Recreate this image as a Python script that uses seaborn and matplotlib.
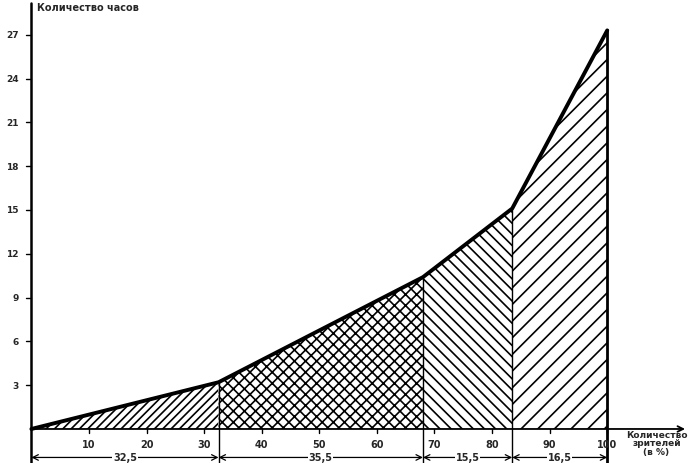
import matplotlib
matplotlib.use('Agg')
import pandas as pd
import seaborn as sns
import matplotlib.pyplot as plt

# Share of viewers (%) per group and the cumulative hours curve
shares = [32.5, 35.5, 15.5, 16.5]
share_labels = ['32,5', '35,5', '15,5', '16,5']
viewers = [0, 32.5, 68, 83.5, 100]
hours = [0, 3.2, 10.4, 15.1, 27.3]
x_ticks = [10, 20, 30, 40, 50, 60, 70, 80, 90, 100]
y_ticks = [3, 6, 9, 12, 15, 18, 21, 24, 27]
hatches = ['////', 'xxx', '\\\\\\', '//']

sns.set_style('white')
plt.rcParams['font.family'] = ['DejaVu Sans']
plt.rcParams['hatch.linewidth'] = 1.2

df = pd.DataFrame({'viewers': viewers, 'hours': hours})

fig = plt.figure(figsize=(6.89, 4.64), dpi=100)
ax = fig.add_axes([0, 0, 1, 1])
ax.set_xlim(-5.45, 114.2)
ax.set_ylim(-2.33, 29.45)
for s in ax.spines.values():
    s.set_visible(False)

# Hatched areas under each segment
for i in range(len(shares)):
    xs = viewers[i:i + 2]
    ys = hours[i:i + 2]
    ax.fill_between(xs, 0, ys, facecolor='white', edgecolor='black',
                    hatch=hatches[i], linewidth=0)
    # boundary line on the right side of each segment
    ax.plot([xs[1], xs[1]], [-2.33, ys[1]], color='black',
            lw=2.0 if i == len(shares) - 1 else 1.0)

sns.lineplot(data=df, x='viewers', y='hours', color='black', lw=2.8, ax=ax)

# axes drawn by hand
ax.plot([0, 0], [-2.33, 29.2], color='black', lw=1.8)
ax.annotate('', xy=(114, 0), xytext=(0, 0),
            arrowprops=dict(arrowstyle='->', color='black', lw=1.3))

for t in x_ticks:
    ax.plot([t, t], [0, -0.3], color='black', lw=1)
    ax.text(t, -1.0, str(t), ha='center', va='center', fontsize=7, fontweight='bold')
for t in y_ticks:
    ax.plot([-0.9, 0], [t, t], color='black', lw=1)
    ax.text(-2.2, t, str(t), ha='right', va='center', fontsize=6.5, fontweight='bold')

ax.text(1.0, 28.9, 'Количество часов', ha='left', va='center',
        fontsize=7, fontweight='bold')
ax.text(113.9, -0.95, 'Количество\nзрителей\n(в %)', ha='right', va='center',
        fontsize=6.5, fontweight='bold', linespacing=0.95, multialignment='center')

# brackets with group shares under the x axis
for i, lab in enumerate(share_labels):
    x0, x1 = viewers[i], viewers[i + 1]
    ax.annotate('', xy=(x1, -1.95), xytext=(x0, -1.95),
                arrowprops=dict(arrowstyle='<->', color='black', lw=0.9,
                                shrinkA=0, shrinkB=0))
    ax.text((x0 + x1) / 2, -1.95, lab, ha='center', va='center', fontsize=7,
            fontweight='bold', bbox=dict(facecolor='white', edgecolor='none', pad=0.5))

ax.set_xlabel('')
ax.set_ylabel('')
ax.set_xticks([])
ax.set_yticks([])
fig.savefig('out.png', dpi=100)
